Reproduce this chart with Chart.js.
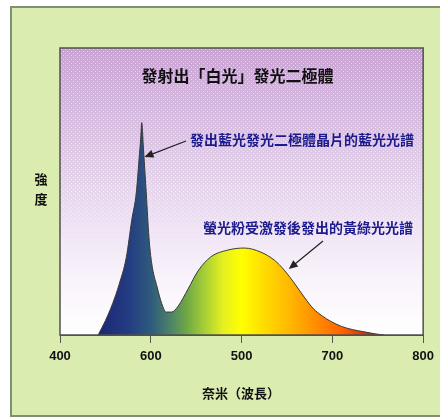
<!DOCTYPE html>
<html><head><meta charset="utf-8">
<script src="https://cdn.jsdelivr.net/npm/chart.js@4.4.1/dist/chart.umd.min.js"></script>
<style>html,body{margin:0;padding:0;background:#fff}#wrap{width:440px;height:420px}</style>
</head><body><div id="wrap"><canvas id="c" width="440" height="420"></canvas></div>
<script>
// ---- data ----
const wavelengths = [442,450,458,465,473,479,484,487,489,490,492,495,498,501,507,512,517,523,530,541,552,566,585,603,621,636,647,658,669,679,689,698,710,722,735,747,757];
const intensity   = [0,5,11,17.5,27,40,49.5,61,69,74,64.5,49.5,34,25,16.7,11,8,8,10,16,22.3,27.2,29.6,30.3,28.9,26.1,22.6,18.1,13.2,9.2,6.6,4.8,3.0,1.9,1.1,0.4,0];
const tickValues = [400,500,600,700,800];
const tickLabels = ["400","600","500","700","800"];
const chartTitle = "發射出「白光」發光二極體";
const xTitle = "奈米（波長）";
const yTitle = ["強","度"];
const noteTexts = ["發出藍光發光二極體晶片的藍光光譜","螢光粉受激發後發出的黃綠光光譜"];
const noteTargets = [[493,62],[652,23]];
const spectrumStops = [[445,'#1d2878'],[475,'#233c82'],[500,'#2e5a7c'],[520,'#4a7f6a'],[540,'#70a845'],[560,'#a8d035'],[580,'#e6f020'],[600,'#ffff00'],[625,'#ffdc00'],[650,'#ffbc00'],[680,'#ff9000'],[710,'#ff6400'],[740,'#d42c00'],[760,'#902000']];

const FONT = '"Noto Sans CJK TC","Noto Sans CJK SC",sans-serif';

function dotPattern(ctx, color){
  const p = document.createElement('canvas'); p.width = 4; p.height = 4;
  const c = p.getContext('2d'); c.fillStyle = color; c.fillRect(1,1,1,1); c.fillRect(3,3,1,1);
  return ctx.createPattern(p,'repeat');
}

const bgPlugin = {
  id:'bg',
  beforeDraw(chart){
    const ctx = chart.ctx, a = chart.chartArea;
    ctx.save();
    ctx.fillStyle = '#ffffff'; ctx.fillRect(0,0,440,420);
    ctx.fillStyle = '#dcedb2'; ctx.fillRect(10,6,430,411);
    ctx.fillStyle = dotPattern(ctx,'rgba(235,205,225,0.8)'); ctx.fillRect(10,6,430,411);
    ctx.strokeStyle = '#7f8f72'; ctx.lineWidth = 2;
    ctx.beginPath(); ctx.moveTo(441,7); ctx.lineTo(11,7); ctx.lineTo(11,416); ctx.lineTo(441,416); ctx.stroke();
    const g = ctx.createLinearGradient(0,a.top,0,a.bottom);
    g.addColorStop(0,'#c9a2d4'); g.addColorStop(0.45,'#e4d2ec'); g.addColorStop(0.8,'#f8f2fa'); g.addColorStop(1,'#ffffff');
    ctx.fillStyle = g; ctx.fillRect(a.left,a.top,a.right-a.left,a.bottom-a.top);
    ctx.fillStyle = dotPattern(ctx,'rgba(255,255,255,0.55)'); ctx.fillRect(a.left,a.top,a.right-a.left,a.bottom-a.top);
    ctx.restore();
  },
  afterDraw(chart){
    const ctx = chart.ctx, a = chart.chartArea, xs = chart.scales.x, ys = chart.scales.y;
    ctx.save();
    ctx.strokeStyle = '#505050'; ctx.lineWidth = 1.5;
    ctx.strokeRect(a.left,a.top,a.right-a.left,a.bottom-a.top);
    ctx.textAlign = 'center'; ctx.textBaseline = 'middle';
    ctx.fillStyle = '#111';
    ctx.font = 'bold 16px ' + FONT;
    ctx.fillText(chartTitle, (a.left+a.right)/2 - 4, 76);
    ctx.font = 'bold 13px ' + FONT;
    ctx.fillText(xTitle, 241, 393);
    ctx.fillText(yTitle[0], 41, 179);
    ctx.fillText(yTitle[1], 41, 199);
    // notes
    ctx.fillStyle = '#1b1b8c';
    ctx.font = 'bold 14px ' + FONT;
    ctx.textAlign = 'left';
    ctx.fillText(noteTexts[0], 190, 140);
    ctx.fillText(noteTexts[1], 203, 228);
    const tails = [[186,141],[323,241]];
    ctx.strokeStyle = '#222'; ctx.fillStyle = '#222'; ctx.lineWidth = 1.2;
    noteTargets.forEach((t,i)=>{
      const tx = xs.getPixelForValue(t[0]), ty = ys.getPixelForValue(t[1]);
      const [sx,sy] = tails[i];
      const ang = Math.atan2(ty-sy, tx-sx);
      ctx.beginPath(); ctx.moveTo(sx,sy); ctx.lineTo(tx - 6*Math.cos(ang), ty - 6*Math.sin(ang)); ctx.stroke();
      ctx.beginPath();
      ctx.moveTo(tx,ty);
      ctx.lineTo(tx - 9*Math.cos(ang) + 4*Math.sin(ang), ty - 9*Math.sin(ang) - 4*Math.cos(ang));
      ctx.lineTo(tx - 9*Math.cos(ang) - 4*Math.sin(ang), ty - 9*Math.sin(ang) + 4*Math.cos(ang));
      ctx.closePath(); ctx.fill();
    });
    ctx.restore();
  }
};

new Chart(document.getElementById('c'), {
  type:'line',
  data:{ datasets:[{
    data: wavelengths.map((w,i)=>({x:w,y:intensity[i]})),
    fill:'origin',
    borderColor:'#3a3a3a', borderWidth:1,
    pointRadius:0, cubicInterpolationMode:'monotone',
    backgroundColor(ctx){
      const ch = ctx.chart, xs = ch.scales.x;
      if(!ch.chartArea || !xs) return '#ffff00';
      const x0 = xs.getPixelForValue(400), x1 = xs.getPixelForValue(800);
      const g = ch.ctx.createLinearGradient(x0,0,x1,0);
      spectrumStops.forEach(s=>g.addColorStop((s[0]-400)/400, s[1]));
      return g;
    }
  }]},
  options:{
    responsive:false, animation:false,
    layout:{padding:{left:60,right:12,top:48,bottom:0}},
    plugins:{legend:{display:false}, tooltip:{enabled:false}},
    scales:{
      x:{type:'linear', min:400, max:800,
        afterBuildTicks(s){ s.ticks = tickValues.map(v=>({value:v})); },
        afterFit(s){ s.height = 85; },
        ticks:{ callback:(v)=>tickLabels[tickValues.indexOf(v)], color:'#111', padding:6, maxRotation:0,
          font:{family:'"Liberation Sans",Arial,sans-serif', size:13, weight:'bold'} },
        grid:{ drawOnChartArea:false, drawTicks:true, tickLength:8, color:'#555', lineWidth:1 },
        border:{display:true, color:'#505050'}
      },
      y:{display:false, min:0, max:100}
    }
  },
  plugins:[bgPlugin]
});
</script></body></html>
